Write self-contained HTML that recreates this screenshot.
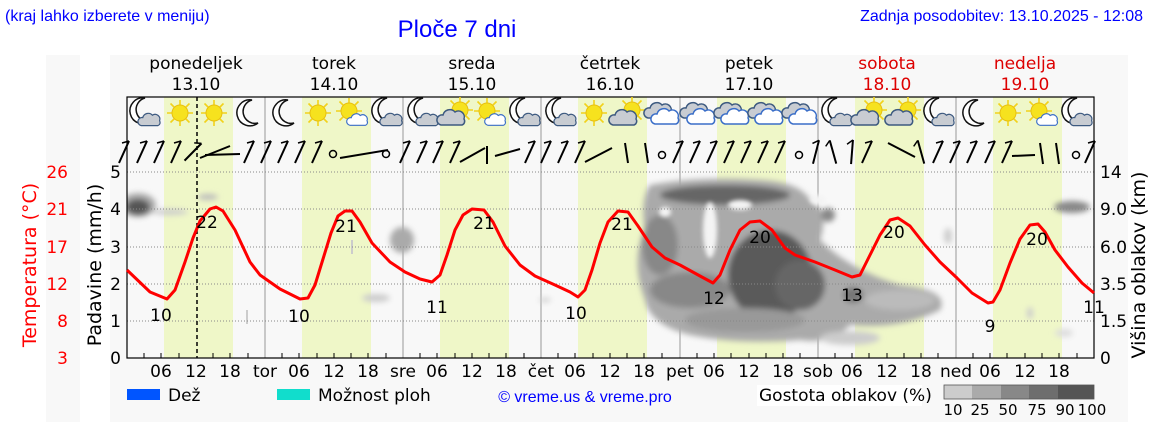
<!DOCTYPE html>
<html><head><meta charset="utf-8"><style>
body{margin:0;background:#fff;width:1152px;height:443px;overflow:hidden}
svg{display:block}
text{font-family:"DejaVu Sans","Liberation Sans",sans-serif}
</style></head><body>
<svg width="1152" height="443" viewBox="0 0 1152 443" xmlns="http://www.w3.org/2000/svg">
<defs>
<filter id="bl" x="-50%" y="-50%" width="200%" height="200%"><feGaussianBlur stdDeviation="3"/></filter>
<filter id="bl2" x="-50%" y="-50%" width="200%" height="200%"><feGaussianBlur stdDeviation="2"/></filter>
<clipPath id="pc"><rect x="127" y="172" width="967" height="186"/></clipPath>
<g id="sun"><g stroke="#f2d21a" stroke-width="1.6"><line x1="-13" y1="0" x2="13" y2="0"/><line x1="0" y1="-13" x2="0" y2="13"/><line x1="-9.5" y1="-9.5" x2="9.5" y2="9.5"/><line x1="-9.5" y1="9.5" x2="9.5" y2="-9.5"/></g><circle r="8" fill="#f6e21e" stroke="#e8c010" stroke-width="1"/></g>
<path id="moon" d="M3,-13 A13,13 0 1,0 9,10 A11,11 0 0,1 3,-13Z" fill="#fff" stroke="#111" stroke-width="1.5"/>
<path id="cl" d="M-11,7 A5,5 0 0,1 -9,-3 A7,7 0 0,1 3,-6 A6,6 0 0,1 12,1 A4,4 0 0,1 10,7 Z" fill="#c8ccd2" stroke="#3d5a80" stroke-width="1.5"/>
<path id="clw" d="M-11,7 A5,5 0 0,1 -9,-3 A7,7 0 0,1 3,-6 A6,6 0 0,1 12,1 A4,4 0 0,1 10,7 Z" fill="#fff" stroke="#3a6ec8" stroke-width="1.5"/>
<g id="mc"><use href="#moon" transform="translate(-3,-2)"/><use href="#cl" transform="translate(5,7) scale(0.8)"/></g>
<g id="sc"><use href="#sun" transform="translate(-3,-2)"/><use href="#clw" transform="translate(6,7) scale(0.75)"/></g>
<g id="cs"><use href="#sun" transform="translate(4,-3)"/><use href="#cl" transform="translate(-4,5)"/></g>
<g id="cc"><use href="#cl" transform="translate(-4,-2)"/><use href="#clw" transform="translate(3,4)"/></g>
<g id="b"><line x1="-5" y1="11" x2="5" y2="-11" stroke="#000" stroke-width="2"/><line x1="5" y1="-11" x2="-2" y2="-9" stroke="#000" stroke-width="1.5"/></g>
</defs>
<rect x="46" y="55" width="34" height="367" fill="#f8f8f8"/>
<rect x="110" y="55" width="1018" height="367" fill="#f8f8f8"/>
<text x="5" y="21" font-size="16" fill="#0000ff" style="font-family:'Liberation Sans',sans-serif">(kraj lahko izberete v meniju)</text>
<text x="457" y="37" text-anchor="middle" font-size="24" fill="#0000ff" style="font-family:'Liberation Sans',sans-serif">Ploče 7 dni</text>
<text x="1143" y="21" text-anchor="end" font-size="16" fill="#0000ff" style="font-family:'Liberation Sans',sans-serif">Zadnja posodobitev: 13.10.2025 - 12:08</text>
<g font-size="17" text-anchor="middle">
<text x="196" y="69">ponedeljek</text><text x="196" y="90">13.10</text>
<text x="334" y="69">torek</text><text x="334" y="90">14.10</text>
<text x="472" y="69">sreda</text><text x="472" y="90">15.10</text>
<text x="610" y="69">četrtek</text><text x="610" y="90">16.10</text>
<text x="749" y="69">petek</text><text x="749" y="90">17.10</text>
<text x="887" y="69" fill="#d00">sobota</text><text x="887" y="90" fill="#d00">18.10</text>
<text x="1025" y="69" fill="#d00">nedelja</text><text x="1025" y="90" fill="#d00">19.10</text>
</g>
<g fill="#eff7c8">
<rect x="164" y="97" width="69" height="261"/><rect x="302" y="97" width="69" height="261"/>
<rect x="440" y="97" width="69" height="261"/><rect x="578" y="97" width="69" height="261"/>
<rect x="717" y="97" width="69" height="261"/><rect x="855" y="97" width="69" height="261"/>
<rect x="993" y="97" width="69" height="261"/>
</g>
<g stroke="#999" stroke-width="1">
<line x1="265" y1="97" x2="265" y2="358"/><line x1="403" y1="97" x2="403" y2="358"/><line x1="541" y1="97" x2="541" y2="358"/><line x1="680" y1="97" x2="680" y2="358"/><line x1="818" y1="97" x2="818" y2="358"/><line x1="956" y1="97" x2="956" y2="358"/>
</g>
<g clip-path="url(#pc)">
<g filter="url(#bl)">
<ellipse cx="138" cy="205" rx="18" ry="12" fill="#aaa"/>
<ellipse cx="138" cy="207" rx="12" ry="8" fill="#555"/>
<ellipse cx="170" cy="212" rx="18" ry="3" fill="#ccc"/>
<ellipse cx="208" cy="197" rx="10" ry="3" fill="#bbb"/>
<ellipse cx="402" cy="240" rx="12" ry="13" fill="#aaa"/>
<ellipse cx="376" cy="298" rx="14" ry="4" fill="#ccc"/>
<ellipse cx="545" cy="300" rx="6" ry="2" fill="#ccc"/>
<!-- big mass -->
<path d="M650,185 Q700,176 760,180 Q800,182 810,200 Q830,210 820,240 Q850,270 900,285 Q950,290 940,310 Q900,330 850,325 Q830,345 800,340 Q740,345 690,335 Q650,325 645,300 Q630,260 645,230 Q640,200 650,185Z" fill="#aaa"/>
<ellipse cx="725" cy="195" rx="65" ry="10" fill="#666"/>
<ellipse cx="660" cy="245" rx="18" ry="30" fill="#888"/>
<ellipse cx="690" cy="290" rx="40" ry="18" fill="#888"/>
<ellipse cx="770" cy="275" rx="42" ry="45" fill="#5a5a5a"/>
<ellipse cx="800" cy="285" rx="25" ry="25" fill="#666"/>
<ellipse cx="745" cy="320" rx="60" ry="12" fill="#999"/>
<ellipse cx="853" cy="295" rx="10" ry="8" fill="#777"/>
<ellipse cx="900" cy="300" rx="35" ry="10" fill="#bbb"/>
<ellipse cx="850" cy="338" rx="30" ry="7" fill="#ccc"/>
<ellipse cx="828" cy="215" rx="7" ry="7" fill="#888"/>
<ellipse cx="1072" cy="207" rx="18" ry="6" fill="#888"/>
<ellipse cx="948" cy="236" rx="4" ry="8" fill="#ccc"/>
<ellipse cx="1030" cy="313" rx="3" ry="6" fill="#ccc"/>
<ellipse cx="1064" cy="333" rx="9" ry="4" fill="#ddd"/>
</g>
<g filter="url(#bl2)" fill="#f4f4f4">
<ellipse cx="710" cy="230" rx="7" ry="28"/>
<ellipse cx="740" cy="205" rx="12" ry="5"/>
<ellipse cx="818" cy="200" rx="8" ry="5"/>
<ellipse cx="665" cy="212" rx="6" ry="5"/>
</g>
<rect x="246" y="310" width="2" height="14" fill="#ccc"/>
<rect x="351" y="240" width="2" height="14" fill="#ccc"/>
</g>
<g stroke="#888" stroke-dasharray="1,2" stroke-width="1">
<line x1="127" y1="172" x2="1094" y2="172"/><line x1="127" y1="209" x2="1094" y2="209"/><line x1="127" y1="247" x2="1094" y2="247"/><line x1="127" y1="284" x2="1094" y2="284"/><line x1="127" y1="321" x2="1094" y2="321"/>
</g>
<line x1="197" y1="97" x2="197" y2="358" stroke="#000" stroke-width="1.5" stroke-dasharray="4,3"/>
<rect x="127" y="97" width="967" height="261" fill="none" stroke="#000" stroke-width="1.2"/>
<g transform="translate(0,113)">
<use href="#mc" x="145"/><use href="#sun" x="180"/><use href="#sun" x="214"/><use href="#moon" x="249"/>
<use href="#moon" x="285"/><use href="#sun" x="318"/><use href="#sc" x="352"/><use href="#mc" x="387"/>
<use href="#mc" x="423"/><use href="#cs" x="456"/><use href="#sc" x="490"/><use href="#mc" x="525"/>
<use href="#mc" x="561"/><use href="#sun" x="594"/><use href="#cs" x="628"/><use href="#cc" x="663"/>
<use href="#cc" x="699"/><use href="#cc" x="733"/><use href="#cc" x="767"/><use href="#cc" x="801"/>
<use href="#mc" x="837"/><use href="#cs" x="870"/><use href="#cs" x="904"/><use href="#mc" x="939"/>
<use href="#moon" x="975"/><use href="#sun" x="1008"/><use href="#sc" x="1042"/><use href="#mc" x="1077"/>
</g>
<g transform="translate(0,152)">
<use href="#b" x="124"/><use href="#b" x="142"/><use href="#b" x="159"/><use href="#b" x="176"/><use href="#b" x="193" transform="rotate(20 193 0)"/>
<line x1="200" y1="6" x2="230" y2="-6" stroke="#000" stroke-width="2"/><line x1="205" y1="3" x2="240" y2="2" stroke="#000" stroke-width="2"/>
<use href="#b" x="249"/><use href="#b" x="266"/><use href="#b" x="283"/><use href="#b" x="300"/><use href="#b" x="317"/>
<circle cx="333" cy="2" r="3.5" fill="none" stroke="#000" stroke-width="1.5"/><line x1="340" y1="6" x2="388" y2="-2" stroke="#000" stroke-width="2"/><circle cx="386" cy="2" r="3.5" fill="none" stroke="#000" stroke-width="1.5"/>
<use href="#b" x="405"/><use href="#b" x="422"/><use href="#b" x="438"/><use href="#b" x="455"/><line x1="460" y1="10" x2="485" y2="-4" stroke="#000" stroke-width="2"/><line x1="487" y1="-6" x2="487" y2="12" stroke="#000" stroke-width="2"/><line x1="495" y1="4" x2="520" y2="-3" stroke="#000" stroke-width="2"/>
<use href="#b" x="530"/><use href="#b" x="546"/><use href="#b" x="563"/><use href="#b" x="580"/><line x1="585" y1="10" x2="612" y2="-4" stroke="#000" stroke-width="2"/><line x1="625" y1="-9" x2="628" y2="11" stroke="#000" stroke-width="2"/><line x1="645" y1="-9" x2="648" y2="11" stroke="#000" stroke-width="2"/>
<circle cx="662" cy="3" r="3.5" fill="none" stroke="#000" stroke-width="1.5"/>
<use href="#b" x="678"/><use href="#b" x="695"/><use href="#b" x="712"/><use href="#b" x="729"/><use href="#b" x="746"/><use href="#b" x="763"/><use href="#b" x="780"/>
<circle cx="799" cy="3" r="3.5" fill="none" stroke="#000" stroke-width="1.5"/>
<use href="#b" x="816" transform="rotate(-10 816 0)"/><use href="#b" x="833" transform="rotate(-40 833 0)"/><use href="#b" x="852" transform="rotate(-20 852 0)"/><use href="#b" x="867"/><line x1="888" y1="-9" x2="915" y2="5" stroke="#000" stroke-width="2"/><use href="#b" x="921" transform="rotate(-40 921 0)"/>
<use href="#b" x="938"/><use href="#b" x="955"/><use href="#b" x="972"/><use href="#b" x="990"/><use href="#b" x="1007"/><line x1="1012" y1="4" x2="1035" y2="3" stroke="#000" stroke-width="2"/><line x1="1040" y1="-9" x2="1043" y2="12" stroke="#000" stroke-width="2"/><line x1="1056" y1="-9" x2="1059" y2="12" stroke="#000" stroke-width="2"/>
<circle cx="1076" cy="3" r="3.5" fill="none" stroke="#000" stroke-width="1.5"/><use href="#b" x="1090"/>
</g>
<polyline fill="none" stroke="#f00" stroke-width="3" stroke-linejoin="round" points="127,270 150,292 167,299 175,290 185,262 193,238 200,221 210,209 216,207 223,211 235,230 250,262 260,275 280,289 300,299 308,298 315,285 323,259 331,233 338,216 345,211 352,211 360,222 372,243 390,262 405,272 420,279 432,282 440,275 447,255 455,230 463,215 472,209 484,210 493,222 505,246 520,265 535,276 555,285 570,292 578,297 585,290 592,270 600,243 608,222 618,211 628,212 638,226 652,247 665,258 680,265 700,276 713,283 720,275 730,250 740,230 750,222 760,221 772,230 785,248 795,255 815,262 835,270 852,277 860,275 870,255 880,235 890,220 898,218 910,226 925,245 940,262 957,278 972,293 988,303 993,302 1000,290 1010,263 1020,239 1030,225 1038,224 1045,232 1055,250 1068,267 1082,283 1094,293"/>
<g font-size="17" text-anchor="middle">
<text x="161" y="321">10</text><text x="207" y="228">22</text>
<text x="299" y="322">10</text><text x="346" y="232">21</text>
<text x="437" y="313">11</text><text x="484" y="229">21</text>
<text x="576" y="319">10</text><text x="622" y="230">21</text>
<text x="714" y="304">12</text><text x="760" y="243">20</text>
<text x="852" y="301">13</text><text x="894" y="238">20</text>
<text x="990" y="332">9</text><text x="1037" y="245">20</text>
<text x="1094" y="313">11</text>
</g>
<g font-size="17" text-anchor="end">
<text x="121" y="178">5</text><text x="121" y="215">4</text><text x="121" y="253">3</text><text x="121" y="290">2</text><text x="121" y="327">1</text><text x="121" y="364">0</text>
</g>
<g font-size="17" text-anchor="end" fill="#f00">
<text x="68" y="178">26</text><text x="68" y="215">21</text><text x="68" y="253">17</text><text x="68" y="290">12</text><text x="68" y="327">8</text><text x="68" y="364">3</text>
</g>
<g font-size="17">
<text x="1100" y="178">14</text><text x="1100" y="215">9.0</text><text x="1100" y="253">6.0</text><text x="1100" y="290">3.5</text><text x="1100" y="327">1.5</text><text x="1100" y="364">0</text>
</g>
<text transform="translate(36,265) rotate(-90)" font-size="19" fill="#f00" text-anchor="middle">Temperatura (°C)</text>
<text transform="translate(101,265) rotate(-90)" font-size="19" text-anchor="middle">Padavine (mm/h)</text>
<text transform="translate(1145,265) rotate(-90)" font-size="19" text-anchor="middle">Višina oblakov (km)</text>
<g stroke="#000" stroke-width="1">
<path d="M144,358v-5M161,358v-5M179,358v-5M213,358v-5M230,358v-5M248,358v-5M282,358v-5M299,358v-5M317,358v-5M334,358v-5M351,358v-5M368,358v-5M386,358v-5M420,358v-5M437,358v-5M455,358v-5M472,358v-5M489,358v-5M506,358v-5M524,358v-5M558,358v-5M575,358v-5M593,358v-5M610,358v-5M627,358v-5M644,358v-5M662,358v-5M697,358v-5M714,358v-5M731,358v-5M749,358v-5M766,358v-5M783,358v-5M800,358v-5M835,358v-5M852,358v-5M869,358v-5M887,358v-5M904,358v-5M921,358v-5M938,358v-5M973,358v-5M990,358v-5M1007,358v-5M1025,358v-5M1042,358v-5M1059,358v-5M1077,358v-5"/>
</g>
<g font-size="17" text-anchor="middle">
<text x="161" y="377">06</text><text x="196" y="377">12</text><text x="230" y="377">18</text><text x="265" y="377">tor</text>
<text x="299" y="377">06</text><text x="334" y="377">12</text><text x="368" y="377">18</text><text x="403" y="377">sre</text>
<text x="437" y="377">06</text><text x="472" y="377">12</text><text x="506" y="377">18</text><text x="541" y="377">čet</text>
<text x="575" y="377">06</text><text x="610" y="377">12</text><text x="644" y="377">18</text><text x="680" y="377">pet</text>
<text x="714" y="377">06</text><text x="749" y="377">12</text><text x="783" y="377">18</text><text x="818" y="377">sob</text>
<text x="852" y="377">06</text><text x="887" y="377">12</text><text x="921" y="377">18</text><text x="956" y="377">ned</text>
<text x="990" y="377">06</text><text x="1025" y="377">12</text><text x="1059" y="377">18</text>
</g>
<rect x="127" y="389" width="33" height="11" fill="#0055ff"/>
<text x="168" y="401" font-size="17">Dež</text>
<rect x="277" y="389" width="33" height="11" fill="#11ddcc"/>
<text x="318" y="401" font-size="17">Možnost ploh</text>
<text x="585" y="402" font-size="16" fill="#0000ff" text-anchor="middle" style="font-family:'Liberation Sans',sans-serif">© vreme.us &amp; vreme.pro</text>
<rect x="757" y="385" width="165" height="21" fill="#fff"/>
<text x="759" y="401" font-size="17">Gostota oblakov (%)</text>
<rect x="944" y="385" width="28" height="14" fill="#ccc"/><rect x="972" y="385" width="29" height="14" fill="#aaa"/><rect x="1001" y="385" width="28" height="14" fill="#888"/><rect x="1029" y="385" width="29" height="14" fill="#6e6e6e"/><rect x="1058" y="385" width="36" height="14" fill="#555"/>
<rect x="944" y="385" width="150" height="14" fill="none" stroke="#555" stroke-width="0.8"/>
<g font-size="15" text-anchor="middle">
<text x="953" y="415">10</text><text x="980" y="415">25</text><text x="1008" y="415">50</text><text x="1037" y="415">75</text><text x="1065" y="415">90</text><text x="1092" y="415">100</text>
</g>
</svg>
</body></html>
